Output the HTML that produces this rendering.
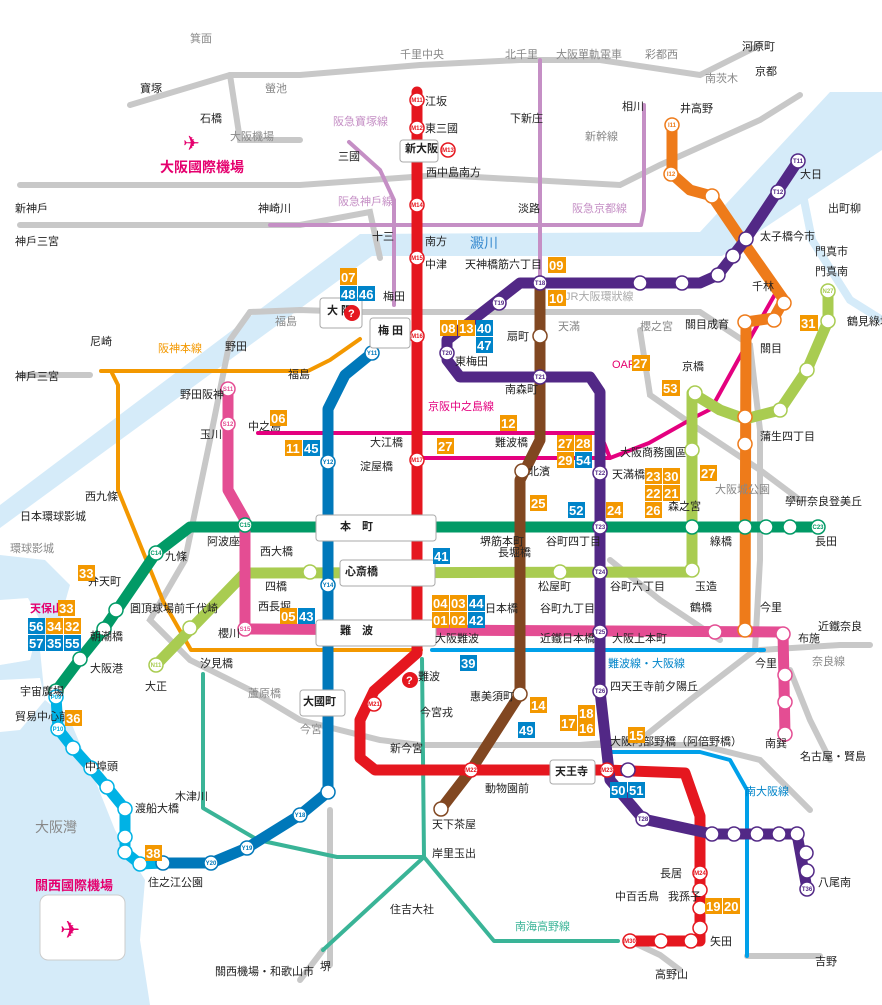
<!DOCTYPE html>
<html><head><meta charset="utf-8"><style>
html,body{margin:0;padding:0;background:#fff}
svg{display:block;font-family:"Liberation Sans","Noto Sans CJK JP",sans-serif}
.t{font-size:11px;fill:#222}
.st{fill:#fff;stroke-width:1.5}
.n{font-size:6px;font-weight:bold;text-anchor:middle}
.bo{fill:#f39800}.bb{fill:#0084c9}
.bt{font-size:13px;font-weight:bold;fill:#fff}
</style></head><body>
<svg width="882" height="1005" viewBox="0 0 882 1005" xmlns="http://www.w3.org/2000/svg">
<path d="M882,92 L830,92 L700,232 L360,234 L0,505 L0,528 L372,256 L722,256 L882,150 Z" fill="#d5ebf9"/>
<path d="M800,180 L812,240 L850,300 L882,320" stroke="#d5ebf9" stroke-width="8" fill="none"/>
<path d="M0,555 L45,560 L70,585 L60,620 L40,650 L45,700 L70,720 L95,780 L115,830 L145,880 L140,940 L150,1005 L0,1005 Z" fill="#d5ebf9"/>
<path d="M0,600 L28,598 L40,620 L30,660 L0,665 Z" fill="#fff"/>
<path d="M0,680 L40,678 L45,700 L20,730 L0,732 Z" fill="#fff"/>
<rect x="40" y="895" width="85" height="65" rx="8" fill="#fff" stroke="#ccc"/>
<g stroke="#c8c8c8" stroke-width="6" fill="none" stroke-linecap="round">
<path d="M130,105 L230,75 L300,75 L420,65 L520,60 L600,60 L700,75 L760,45"/>
<path d="M230,75 L240,140 L300,140"/>
<path d="M20,185 L300,185 L440,175 L620,185 L660,165 L760,120 L800,95"/>
<path d="M20,225 L300,225 L370,212 L380,258"/>
<path d="M20,375 L90,375"/>
<path d="M250,312 L300,310 L360,312 L700,312 L750,345 L760,430 L760,560 L755,650 L690,700 L640,740 L580,745"/>
<path d="M250,312 L230,340 L210,440 L185,560 L150,620 L190,660 L250,690 L300,720 L380,740 L420,745 L560,745 L580,745"/>
<path d="M580,745 L640,745 L700,745 L760,760 L810,810"/>
<path d="M760,650 L840,645 L870,645"/>
<path d="M640,330 L650,395 L700,430 L760,470 L800,500"/>
<path d="M610,560 L660,600 L720,640"/>
<path d="M790,670 L810,720 L830,760"/>
<path d="M630,941 L660,955 L680,970"/>
<path d="M747,956 L820,956"/>
<path d="M323,950 L300,980"/>
<path d="M330,810 L330,965"/>
</g>
<g fill="none" stroke-width="4" stroke-linecap="round" stroke-linejoin="round">
<path d="M349,142 L380,170 L394,200 L394,305" stroke="#c58fc5"/>
<path d="M270,225 L641,225 L644,210 L644,105" stroke="#c58fc5"/>
<path d="M540,60 L540,282" stroke="#c58fc5"/>
<path d="M101,371 L308,371 L330,360 L360,339" stroke="#f39800"/>
<path d="M112,373 L118,385 L118,490 L163,601 L191,650 L421,650" stroke="#f39800"/>
<path d="M258,433 L600,433 L610,458" stroke="#e4007f"/>
<path d="M417,458 L610,458 L649,443 L697,416 L711,409 L753,333 L778,289" stroke="#e4007f"/>
<path d="M432,650 L764,650" stroke="#00a0e9"/>
<path d="M612,752 L700,752 L730,760 L747,790 L747,956" stroke="#00a0e9"/>
<path d="M422,659 L424,857 L323,950" stroke="#3ab497"/>
<path d="M424,857 L494,941 L618,941" stroke="#3ab497"/>
<path d="M203,674 L203,808 L258,840 L337,857 L424,857" stroke="#3ab497"/>
</g>
<g fill="none" stroke-width="11" stroke-linejoin="round" stroke-linecap="round">
<path d="M672,125 L672,174 L690,190 L712,196 L746,246 L784,300 L774,318 L746,322 L745,630" stroke="#ee7b1a"/>
<path d="M156,665 L245,573 L692,572 L692,393 L720,410 L745,419 L780,410 L807,370 L828,321 L828,291" stroke="#a9cc51"/>
<path d="M56,691 L80,659 L104,629 L156,553 L190,527 L820,527" stroke="#019a66"/>
<path d="M228,389 L228,490 L245,520 L245,629 L783,632 L785,734" stroke="#e44d93"/>
<path d="M540,282 L540,440 L520,480 L520,694 L471,770 L441,809" stroke="#814721"/>
<path d="M372,353 L345,375 L328,409 L328,792 L300,815 L247,848 L211,863 L163,863" stroke="#0078ba"/>
<path d="M56,697 L58,729 L73,748 L91,768 L107,787 L125,809 L125,852 L140,864 L163,863" stroke="#00b2e5"/>
<path d="M417,92 L417,653 L374,691 L360,720 L360,758 L375,770 L607,770 L685,773 L700,816 L700,941 L630,941" stroke="#e5171f"/>
<path d="M798,161 L746,239 L718,275 L700,283 L520,283 L447,340 L447,360 L460,377 L590,377 L600,392 L600,691 L610,780 L643,819 L712,834 L797,834 L807,889" stroke="#522886"/>
</g>
<g class="st">
<g stroke="#e5171f"><circle cx="417" cy="100" r="7"/><circle cx="417" cy="128" r="7"/><circle cx="448" cy="150" r="7"/><circle cx="417" cy="205" r="7"/><circle cx="417" cy="258" r="7"/><circle cx="417" cy="336" r="7"/><circle cx="417" cy="460" r="7"/><circle cx="374" cy="704" r="7"/><circle cx="471" cy="770" r="7"/><circle cx="607" cy="770" r="7"/><circle cx="700" cy="873" r="7"/><circle cx="700" cy="890" r="7"/><circle cx="700" cy="908" r="7"/><circle cx="700" cy="928" r="7"/><circle cx="691" cy="941" r="7"/><circle cx="661" cy="941" r="7"/><circle cx="630" cy="941" r="7"/></g>
<g stroke="#522886"><circle cx="798" cy="161" r="7"/><circle cx="778" cy="192" r="7"/><circle cx="746" cy="239" r="7"/><circle cx="733" cy="256" r="7"/><circle cx="718" cy="275" r="7"/><circle cx="682" cy="283" r="7"/><circle cx="640" cy="283" r="7"/><circle cx="540" cy="283" r="7"/><circle cx="499" cy="303" r="7"/><circle cx="447" cy="353" r="7"/><circle cx="540" cy="377" r="7"/><circle cx="600" cy="473" r="7"/><circle cx="600" cy="527" r="7"/><circle cx="600" cy="572" r="7"/><circle cx="600" cy="632" r="7"/><circle cx="600" cy="691" r="7"/><circle cx="628" cy="770" r="7"/><circle cx="643" cy="819" r="7"/><circle cx="712" cy="834" r="7"/><circle cx="734" cy="834" r="7"/><circle cx="757" cy="834" r="7"/><circle cx="779" cy="834" r="7"/><circle cx="797" cy="834" r="7"/><circle cx="806" cy="853" r="7"/><circle cx="807" cy="871" r="7"/><circle cx="807" cy="889" r="7"/></g>
<g stroke="#814721"><circle cx="540" cy="336" r="7"/><circle cx="522" cy="471" r="7"/><circle cx="520" cy="694" r="7"/><circle cx="441" cy="809" r="7"/></g>
<g stroke="#0078ba"><circle cx="372" cy="353" r="7"/><circle cx="328" cy="462" r="7"/><circle cx="328" cy="585" r="7"/><circle cx="328" cy="792" r="7"/><circle cx="300" cy="815" r="7"/><circle cx="247" cy="848" r="7"/><circle cx="211" cy="863" r="7"/><circle cx="163" cy="863" r="7"/></g>
<g stroke="#019a66"><circle cx="245" cy="525" r="7"/><circle cx="156" cy="553" r="7"/><circle cx="116" cy="610" r="7"/><circle cx="104" cy="629" r="7"/><circle cx="80" cy="659" r="7"/><circle cx="56" cy="691" r="7"/><circle cx="692" cy="527" r="7"/><circle cx="745" cy="527" r="7"/><circle cx="766" cy="527" r="7"/><circle cx="790" cy="527" r="7"/><circle cx="818" cy="527" r="7"/></g>
<g stroke="#e44d93"><circle cx="228" cy="389" r="7"/><circle cx="228" cy="424" r="7"/><circle cx="245" cy="629" r="7"/><circle cx="715" cy="632" r="7"/><circle cx="783" cy="634" r="7"/><circle cx="785" cy="675" r="7"/><circle cx="785" cy="702" r="7"/><circle cx="785" cy="734" r="7"/></g>
<g stroke="#a9cc51"><circle cx="156" cy="665" r="7"/><circle cx="190" cy="628" r="7"/><circle cx="310" cy="572" r="7"/><circle cx="560" cy="572" r="7"/><circle cx="692" cy="570" r="7"/><circle cx="692" cy="450" r="7"/><circle cx="695" cy="393" r="7"/><circle cx="780" cy="410" r="7"/><circle cx="807" cy="370" r="7"/><circle cx="828" cy="321" r="7"/><circle cx="828" cy="291" r="7"/></g>
<g stroke="#ee7b1a"><circle cx="672" cy="125" r="7"/><circle cx="671" cy="174" r="7"/><circle cx="712" cy="196" r="7"/><circle cx="784" cy="303" r="7"/><circle cx="774" cy="320" r="7"/><circle cx="745" cy="322" r="7"/><circle cx="745" cy="417" r="7"/><circle cx="745" cy="444" r="7"/><circle cx="745" cy="630" r="7"/></g>
<g stroke="#00b2e5"><circle cx="56" cy="697" r="7"/><circle cx="58" cy="729" r="7"/><circle cx="73" cy="748" r="7"/><circle cx="91" cy="768" r="7"/><circle cx="107" cy="787" r="7"/><circle cx="125" cy="809" r="7"/><circle cx="125" cy="837" r="7"/><circle cx="125" cy="852" r="7"/><circle cx="140" cy="864" r="7"/></g>
</g>
<g class="n">
<text x="417" y="102" fill="#e5171f">M11</text><text x="417" y="130" fill="#e5171f">M12</text><text x="448" y="152" fill="#e5171f">M13</text><text x="417" y="207" fill="#e5171f">M14</text><text x="417" y="260" fill="#e5171f">M15</text><text x="417" y="338" fill="#e5171f">M16</text><text x="417" y="462" fill="#e5171f">M17</text><text x="374" y="706" fill="#e5171f">M21</text><text x="471" y="772" fill="#e5171f">M22</text><text x="607" y="772" fill="#e5171f">M23</text><text x="700" y="875" fill="#e5171f">M24</text><text x="630" y="943" fill="#e5171f">M30</text>
<text x="798" y="163" fill="#522886">T11</text><text x="778" y="194" fill="#522886">T12</text><text x="540" y="285" fill="#522886">T18</text><text x="499" y="305" fill="#522886">T19</text><text x="447" y="355" fill="#522886">T20</text><text x="540" y="379" fill="#522886">T21</text><text x="600" y="475" fill="#522886">T22</text><text x="600" y="529" fill="#522886">T23</text><text x="600" y="574" fill="#522886">T24</text><text x="600" y="634" fill="#522886">T25</text><text x="600" y="693" fill="#522886">T26</text><text x="643" y="821" fill="#522886">T28</text><text x="807" y="891" fill="#522886">T36</text>
<text x="372" y="355" fill="#0078ba">Y11</text><text x="328" y="464" fill="#0078ba">Y12</text><text x="328" y="587" fill="#0078ba">Y14</text><text x="300" y="817" fill="#0078ba">Y18</text><text x="247" y="850" fill="#0078ba">Y19</text><text x="211" y="865" fill="#0078ba">Y20</text>
<text x="245" y="527" fill="#019a66">C15</text><text x="156" y="555" fill="#019a66">C14</text><text x="818" y="529" fill="#019a66">C23</text>
<text x="228" y="391" fill="#e44d93">S11</text><text x="228" y="426" fill="#e44d93">S12</text><text x="245" y="631" fill="#e44d93">S15</text>
<text x="828" y="293" fill="#a9cc51">N27</text><text x="156" y="667" fill="#a9cc51">N11</text>
<text x="672" y="127" fill="#ee7b1a">I11</text><text x="671" y="176" fill="#ee7b1a">I12</text>
<text x="56" y="699" fill="#00b2e5">P09</text><text x="58" y="731" fill="#00b2e5">P10</text>
</g>
<g fill="#fff" stroke="#aaa">
<rect x="400" y="140" width="38" height="22" rx="3"/>
<rect x="320" y="298" width="42" height="30" rx="3"/>
<rect x="370" y="318" width="40" height="30" rx="3"/>
<rect x="316" y="515" width="120" height="26" rx="3"/>
<rect x="340" y="560" width="95" height="26" rx="3"/>
<rect x="316" y="620" width="120" height="26" rx="3"/>
<rect x="300" y="690" width="45" height="26" rx="3"/>
<rect x="550" y="760" width="45" height="24" rx="3"/>
</g>
<text x="405" y="152" class="t" font-weight="bold">新大阪</text>
<text x="327" y="314" class="t" font-weight="bold">大 阪</text>
<text x="378" y="334" class="t" font-weight="bold">梅 田</text>
<text x="340" y="530" class="t" font-weight="bold">本　町</text>
<text x="345" y="575" class="t" font-weight="bold">心斎橋</text>
<text x="340" y="634" class="t" font-weight="bold">難　波</text>
<text x="303" y="705" class="t" font-weight="bold">大國町</text>
<text x="555" y="775" class="t" font-weight="bold">天王寺</text>
<circle cx="352" cy="313" r="8" fill="#e5171f"/><text x="348" y="317" fill="#fff" font-size="11" font-weight="bold">?</text>
<circle cx="410" cy="680" r="8" fill="#e5171f"/><text x="406" y="684" fill="#fff" font-size="11" font-weight="bold">?</text>
<g class="t">
<text x="190" y="42" fill="#888">箕面</text><text x="400" y="58" fill="#888">千里中央</text><text x="505" y="58" fill="#888">北千里</text><text x="556" y="58" fill="#888">大阪單軌電車</text><text x="645" y="58" fill="#888">彩都西</text><text x="742" y="50">河原町</text>
<text x="140" y="92">寶塚</text><text x="265" y="92" fill="#888">螢池</text><text x="755" y="75">京都</text><text x="705" y="82" fill="#888">南茨木</text>
<text x="200" y="122">石橋</text><text x="425" y="105">江坂</text><text x="425" y="132">東三國</text><text x="510" y="122">下新庄</text><text x="622" y="110">相川</text><text x="680" y="112">井高野</text>
<text x="230" y="140" fill="#888">大阪機場</text><text x="338" y="160">三國</text><text x="426" y="176">西中島南方</text><text x="333" y="125" fill="#c58fc5">阪急寶塚線</text><text x="585" y="140" fill="#888">新幹線</text>
<text x="160" y="172" fill="#e5006e" font-size="14" font-weight="bold">大阪國際機場</text>
<text x="800" y="178">大日</text><text x="828" y="212">出町柳</text>
<text x="15" y="212">新神戶</text><text x="258" y="212">神崎川</text><text x="338" y="205" fill="#c58fc5">阪急神戶線</text><text x="518" y="212">淡路</text><text x="572" y="212" fill="#c58fc5">阪急京都線</text>
<text x="15" y="245">神戶三宮</text><text x="372" y="240">十三</text><text x="425" y="245">南方</text><text x="470" y="248" fill="#3a8cd0" font-size="14">澱川</text><text x="760" y="240">太子橋今市</text><text x="815" y="255">門真市</text>
<text x="425" y="268">中津</text><text x="465" y="268">天神橋筋六丁目</text><text x="815" y="275">門真南</text>
<text x="752" y="290">千林</text><text x="565" y="300" fill="#aaa">JR大阪環狀線</text><text x="847" y="325">鶴見綠地</text>
<text x="275" y="325" fill="#888">福島</text><text x="383" y="300">梅田</text><text x="558" y="330" fill="#888">天滿</text><text x="640" y="330" fill="#888">櫻之宮</text><text x="685" y="328">關目成育</text>
<text x="90" y="345">尼崎</text><text x="158" y="352" fill="#f39800">阪神本線</text><text x="225" y="350">野田</text><text x="288" y="378">福島</text><text x="507" y="340">扇町</text><text x="760" y="352">關目</text>
<text x="455" y="365">東梅田</text><text x="612" y="368" fill="#e5006e">OAP</text>
<text x="15" y="380">神戶三宮</text><text x="180" y="398">野田阪神</text><text x="505" y="393">南森町</text><text x="682" y="370">京橋</text>
<text x="248" y="430">中之島</text><text x="428" y="410" fill="#e4007f">京阪中之島線</text><text x="760" y="440">蒲生四丁目</text>
<text x="200" y="438">玉川</text><text x="370" y="446">大江橋</text><text x="495" y="446">難波橋</text><text x="620" y="456">大阪商務園區</text>
<text x="360" y="470">淀屋橋</text><text x="528" y="475">北濱</text><text x="612" y="478">天滿橋</text>
<text x="85" y="500">西九條</text><text x="715" y="493" fill="#888">大阪城公園</text><text x="785" y="505">學研奈良登美丘</text>
<text x="20" y="520">日本環球影城</text><text x="668" y="510">森之宮</text>
<text x="207" y="545">阿波座</text><text x="480" y="545">堺筋本町</text><text x="546" y="545">谷町四丁目</text><text x="710" y="545">綠橋</text><text x="815" y="545">長田</text>
<text x="260" y="555">西大橋</text><text x="165" y="560">九條</text><text x="498" y="556">長堀橋</text>
<text x="10" y="552" fill="#888">環球影城</text><text x="265" y="590">四橋</text><text x="538" y="590">松屋町</text><text x="610" y="590">谷町六丁目</text><text x="695" y="590">玉造</text>
<text x="88" y="585">弁天町</text><text x="485" y="612">日本橋</text><text x="540" y="612">谷町九丁目</text><text x="690" y="611">鶴橋</text><text x="760" y="611">今里</text>
<text x="130" y="612">圓頂球場前千代崎</text><text x="258" y="610">西長堀</text>
<text x="30" y="612" fill="#e5006e" font-weight="bold">天保山</text><text x="218" y="637">櫻川</text><text x="435" y="642">大阪難波</text><text x="540" y="642">近鐵日本橋</text><text x="612" y="642">大阪上本町</text><text x="798" y="642">布施</text><text x="818" y="630">近鐵奈良</text>
<text x="90" y="640">朝潮橋</text><text x="200" y="667">汐見橋</text><text x="608" y="667" fill="#0084c9">難波線・大阪線</text><text x="755" y="667">今里</text><text x="812" y="665" fill="#888">奈良線</text>
<text x="90" y="672">大阪港</text><text x="418" y="680">難波</text><text x="610" y="690">四天王寺前夕陽丘</text>
<text x="145" y="690">大正</text><text x="248" y="697" fill="#888">蘆原橋</text><text x="470" y="700">惠美須町</text>
<text x="20" y="695">宇宙廣場</text><text x="420" y="716">今宮戎</text><text x="765" y="747">南巽</text>
<text x="15" y="720">貿易中心前</text><text x="300" y="733" fill="#888">今宮</text><text x="610" y="745">大阪阿部野橋（阿倍野橋）</text><text x="800" y="760">名古屋・賢島</text>
<text x="85" y="770">中埠頭</text><text x="390" y="752">新今宮</text><text x="485" y="792">動物園前</text><text x="745" y="795" fill="#0084c9">南大阪線</text>
<text x="175" y="800">木津川</text><text x="135" y="812">渡船大橋</text>
<text x="35" y="832" fill="#888" font-size="14">大阪灣</text>
<text x="432" y="828">天下茶屋</text><text x="432" y="857">岸里玉出</text><text x="818" y="886">八尾南</text>
<text x="148" y="886">住之江公園</text><text x="35" y="890" fill="#e5006e" font-size="13" font-weight="bold">關西國際機場</text>
<text x="660" y="877">長居</text><text x="615" y="900">中百舌鳥</text><text x="668" y="900">我孫子</text>
<text x="390" y="913">住吉大社</text><text x="515" y="930" fill="#3ab497">南海高野線</text>
<text x="710" y="945">矢田</text><text x="215" y="975">關西機場・和歌山市</text><text x="320" y="970">堺</text><text x="655" y="978">高野山</text><text x="815" y="965">吉野</text>
</g>
<text x="60" y="938" font-size="24" fill="#e5006e">✈</text>
<text x="183" y="150" font-size="20" fill="#e5006e">✈</text>
<g>
<rect x="340" y="268" width="17" height="17" class="bo"/><rect x="340" y="286" width="17" height="15" class="bb"/><rect x="358" y="286" width="17" height="15" class="bb"/>
<rect x="440" y="320" width="17" height="16" class="bo"/><rect x="458" y="320" width="17" height="16" class="bo"/><rect x="476" y="320" width="17" height="16" class="bb"/><rect x="476" y="337" width="17" height="16" class="bb"/>
<rect x="548" y="257" width="18" height="16" class="bo"/><rect x="548" y="290" width="18" height="16" class="bo"/>
<rect x="632" y="355" width="18" height="16" class="bo"/><rect x="662" y="380" width="18" height="16" class="bo"/><rect x="800" y="315" width="18" height="16" class="bo"/>
<rect x="270" y="410" width="17" height="16" class="bo"/><rect x="285" y="440" width="17" height="16" class="bo"/><rect x="303" y="440" width="17" height="16" class="bb"/>
<rect x="437" y="438" width="17" height="16" class="bo"/><rect x="500" y="415" width="17" height="16" class="bo"/>
<rect x="557" y="435" width="17" height="16" class="bo"/><rect x="575" y="435" width="17" height="16" class="bo"/><rect x="557" y="452" width="17" height="16" class="bo"/><rect x="575" y="452" width="17" height="16" class="bb"/>
<rect x="645" y="468" width="17" height="16" class="bo"/><rect x="663" y="468" width="17" height="16" class="bo"/><rect x="645" y="485" width="17" height="16" class="bo"/><rect x="663" y="485" width="17" height="16" class="bo"/>
<rect x="530" y="495" width="17" height="16" class="bo"/><rect x="568" y="502" width="17" height="16" class="bb"/><rect x="606" y="502" width="17" height="16" class="bo"/><rect x="645" y="502" width="17" height="16" class="bo"/><rect x="700" y="465" width="17" height="16" class="bo"/>
<rect x="433" y="548" width="17" height="16" class="bb"/>
<rect x="432" y="595" width="17" height="16" class="bo"/><rect x="450" y="595" width="17" height="16" class="bo"/><rect x="468" y="595" width="17" height="16" class="bb"/><rect x="432" y="612" width="17" height="16" class="bo"/><rect x="450" y="612" width="17" height="16" class="bo"/><rect x="468" y="612" width="17" height="16" class="bb"/>
<rect x="280" y="608" width="17" height="16" class="bo"/><rect x="298" y="608" width="17" height="16" class="bb"/>
<rect x="460" y="655" width="17" height="16" class="bb"/><rect x="530" y="697" width="17" height="16" class="bo"/><rect x="518" y="722" width="17" height="16" class="bb"/>
<rect x="560" y="715" width="17" height="16" class="bo"/><rect x="578" y="705" width="17" height="16" class="bo"/><rect x="578" y="720" width="17" height="16" class="bo"/>
<rect x="628" y="727" width="17" height="16" class="bo"/><rect x="610" y="782" width="17" height="16" class="bb"/><rect x="628" y="782" width="17" height="16" class="bb"/>
<rect x="705" y="898" width="17" height="16" class="bo"/><rect x="723" y="898" width="17" height="16" class="bo"/>
<rect x="145" y="845" width="17" height="16" class="bo"/><rect x="65" y="710" width="17" height="16" class="bo"/><rect x="78" y="565" width="17" height="16" class="bo"/>
<rect x="58" y="600" width="17" height="16" class="bo"/><rect x="28" y="618" width="17" height="16" class="bb"/><rect x="46" y="618" width="17" height="16" class="bo"/><rect x="64" y="618" width="17" height="16" class="bo"/><rect x="28" y="635" width="17" height="16" class="bb"/><rect x="46" y="635" width="17" height="16" class="bb"/><rect x="64" y="635" width="17" height="16" class="bb"/>
</g>
<g class="bt">
<text x="341" y="282">07</text><text x="341" y="299">48</text><text x="359" y="299">46</text>
<text x="441" y="333">08</text><text x="459" y="333">13</text><text x="477" y="333">40</text><text x="477" y="350">47</text>
<text x="549" y="270">09</text><text x="549" y="303">10</text><text x="633" y="368">27</text><text x="663" y="393">53</text><text x="801" y="328">31</text>
<text x="271" y="423">06</text><text x="286" y="453">11</text><text x="304" y="453">45</text><text x="438" y="451">27</text><text x="501" y="428">12</text>
<text x="558" y="448">27</text><text x="576" y="448">28</text><text x="558" y="465">29</text><text x="576" y="465">54</text>
<text x="646" y="481">23</text><text x="664" y="481">30</text><text x="646" y="498">22</text><text x="664" y="498">21</text>
<text x="531" y="508">25</text><text x="569" y="515">52</text><text x="607" y="515">24</text><text x="646" y="515">26</text><text x="701" y="478">27</text>
<text x="434" y="561">41</text>
<text x="433" y="608">04</text><text x="451" y="608">03</text><text x="469" y="608">44</text><text x="433" y="625">01</text><text x="451" y="625">02</text><text x="469" y="625">42</text>
<text x="281" y="621">05</text><text x="299" y="621">43</text>
<text x="461" y="668">39</text><text x="531" y="710">14</text><text x="519" y="735">49</text>
<text x="561" y="728">17</text><text x="579" y="718">18</text><text x="579" y="733">16</text>
<text x="629" y="740">15</text><text x="611" y="795">50</text><text x="629" y="795">51</text>
<text x="706" y="911">19</text><text x="724" y="911">20</text>
<text x="146" y="858">38</text><text x="66" y="723">36</text><text x="79" y="578">33</text>
<text x="59" y="613">33</text><text x="29" y="631">56</text><text x="47" y="631">34</text><text x="65" y="631">32</text><text x="29" y="648">57</text><text x="47" y="648">35</text><text x="65" y="648">55</text>
</g>
</svg>
</body></html>
